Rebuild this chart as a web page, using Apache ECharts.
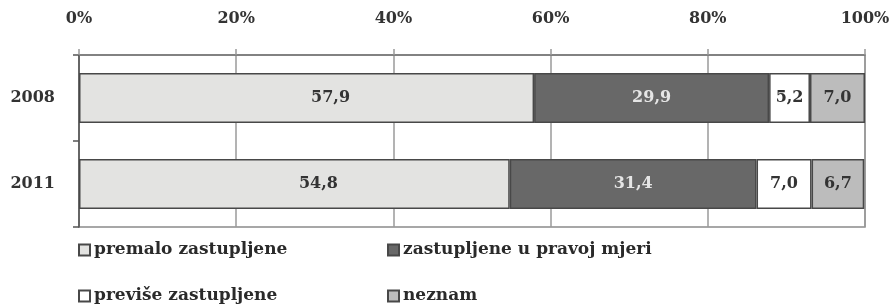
<!DOCTYPE html>
<html>
<head>
<meta charset="utf-8">
<script src="https://cdn.jsdelivr.net/npm/echarts@6/dist/echarts.min.js"></script>
<style>
  html, body { margin: 0; padding: 0; background: #fff; }
  #chart { width: 895px; height: 306px; }
</style>
</head>
<body>
<div id="chart"></div>
<script>
var years = ['2008', '2011'];
var seriesNames = ['premalo zastupljene', 'zastupljene u pravoj mjeri', 'previše zastupljene', 'neznam'];
var premalo = [57.9, 54.8];
var pravoj = [29.9, 31.4];
var previse = [5.2, 7.0];
var neznam = [7.0, 6.7];
var colors = ['#e3e3e1', '#686868', '#ffffff', '#bcbcbc'];
var labelColors = ['#333', '#e6e6e6', '#333', '#333'];
var labelShift = [24, 0, 0, 0];
var values = [premalo, pravoj, previse, neznam];

var font = 'DejaVu Serif';

var chart = echarts.init(document.getElementById('chart'));

var series = values.map(function (v, i) {
  return {
    name: seriesNames[i],
    type: 'bar',
    stack: 'all',
    barWidth: 50,
    data: v,
    itemStyle: { color: colors[i], borderColor: '#484848', borderWidth: 1.5 },
    label: {
      show: true,
      position: 'inside',
      offset: [labelShift[i], 0],
      fontFamily: font,
      fontSize: 16,
      fontWeight: 'bold',
      color: labelColors[i],
      formatter: function (p) { return p.value.toFixed(1).replace('.', ','); }
    }
  };
});

function legendCol(left, names) {
  return {
    orient: 'vertical',
    left: left,
    top: 240,
    height: 80,
    padding: 0,
    icon: 'rect',
    itemWidth: 11,
    itemHeight: 11,
    itemGap: 26,
    data: names,
    textStyle: { fontFamily: font, fontSize: 17, fontWeight: 'bold', color: '#2a2a2a', lineHeight: 20, padding: [0, 0, 0, -1] }
  };
}

var options = {
  animation: false,
  grid: {
    show: true,
    left: 79,
    right: 30,
    top: 55,
    bottom: 79,
    borderColor: '#8a8a8a',
    borderWidth: 1.5
  },
  legend: [
    legendCol(78, [seriesNames[0], seriesNames[2]]),
    legendCol(387, [seriesNames[1], seriesNames[3]])
  ],
  xAxis: {
    type: 'value',
    position: 'top',
    min: 0,
    max: 100,
    interval: 20,
    axisLine: { show: true, lineStyle: { color: '#777', width: 1.5 } },
    axisTick: { show: true, length: 6, lineStyle: { color: '#999', width: 1.5 } },
    splitLine: { show: true, lineStyle: { color: '#9a9a9a', width: 1.5 } },
    axisLabel: {
      formatter: '{value}%',
      margin: 28,
      fontFamily: font,
      fontSize: 16,
      fontWeight: 'bold',
      color: '#333'
    }
  },
  yAxis: {
    type: 'category',
    inverse: true,
    data: years,
    axisLine: { show: true, lineStyle: { color: '#555', width: 1.5 } },
    axisTick: { show: true, length: 6, lineStyle: { color: '#555', width: 1.5 } },
    axisLabel: {
      margin: 24,
      fontFamily: font,
      fontSize: 16,
      fontWeight: 'bold',
      color: '#333'
    }
  },
  series: series
};

chart.setOption(options);
</script>
</body>
</html>
